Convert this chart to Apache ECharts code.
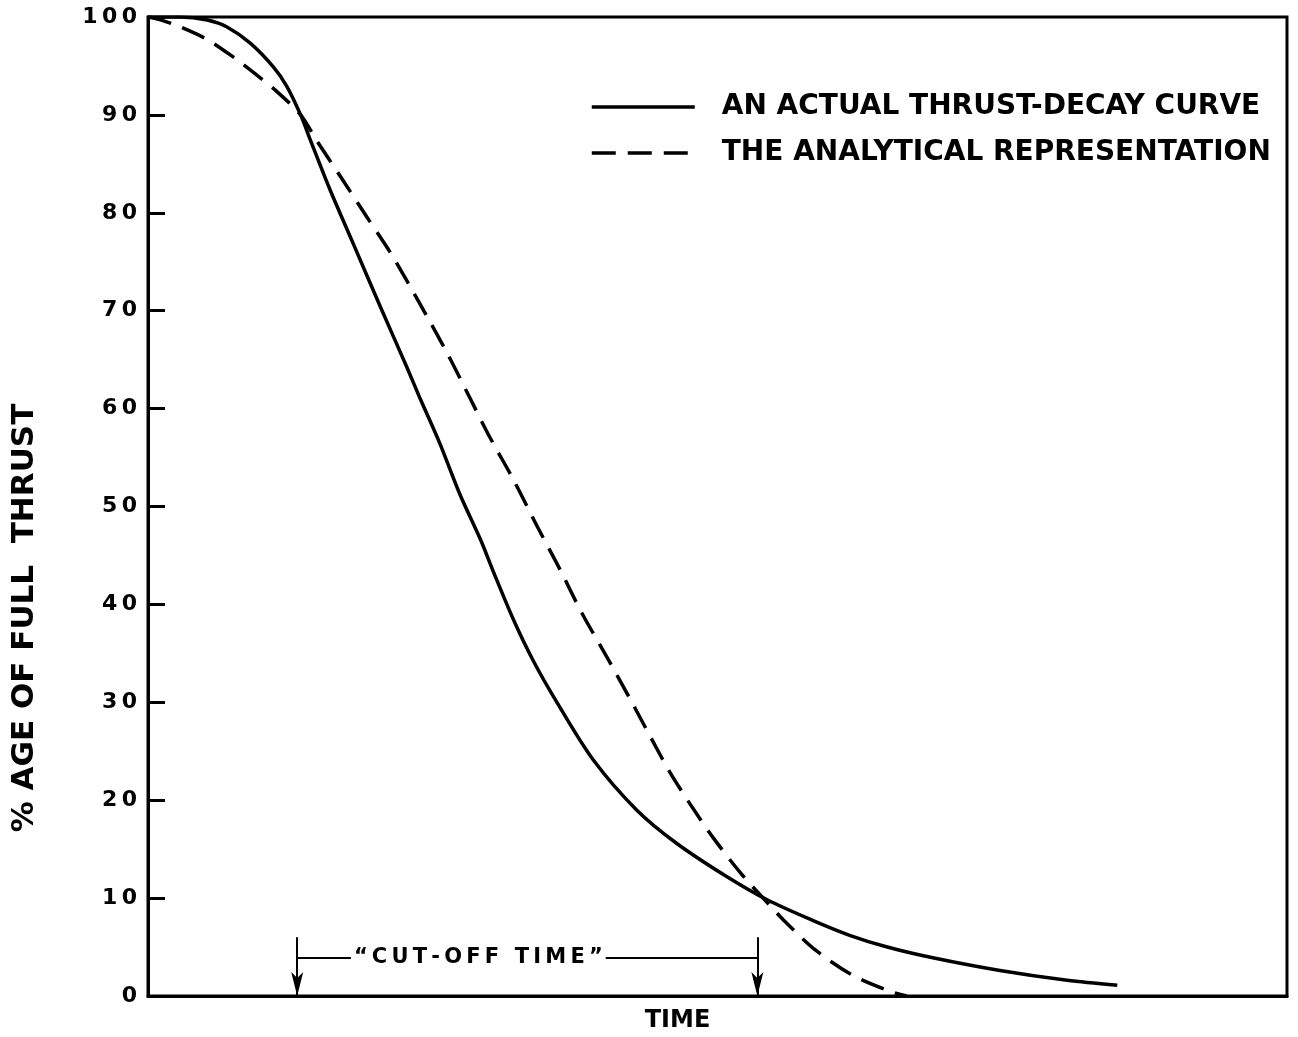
<!DOCTYPE html>
<html>
<head>
<meta charset="utf-8">
<title>Thrust decay</title>
<script src="https://cdn.jsdelivr.net/npm/echarts@6/dist/echarts.min.js"></script>
<style>
  html, body { margin: 0; padding: 0; background: #fff; }
  #chart { width: 1298px; height: 1037px; }
</style>
</head>
<body>
<div id="chart"></div>
<script>
// time axis is unitless in the original, 0..100 across the frame
var actualCurve = [
  [0, 100], [2.8, 100], [5.2, 99.7], [6.9, 99.0], [9.0, 97.3], [11.0, 94.9],
  [12.2, 92.9], [13.4, 90.0], [14.3, 87.3], [16.0, 82.3], [18.0, 76.9],
  [20.4, 70.4], [22.7, 64.3], [23.9, 61.0], [25.6, 56.5], [27.4, 51.2],
  [29.2, 46.6], [30.3, 43.4], [32.1, 38.4], [33.8, 34.3], [35.9, 30.0],
  [39.1, 24.1], [42.9, 19.0], [46.4, 15.6], [50.8, 12.2], [54.4, 9.8],
  [58.4, 7.7], [61.6, 6.2], [64.9, 5.0], [68.9, 3.9], [74.8, 2.6],
  [80.7, 1.6], [85.1, 1.1]
];
var analyticalCurve = [
  [0, 100], [1.1, 99.7], [2.8, 99.0], [5.2, 97.7], [7.5, 95.9], [9.2, 94.4],
  [11.3, 92.4], [13.4, 90.0], [14.8, 87.4], [16.9, 83.7], [19.2, 79.6],
  [21.3, 75.9], [23.0, 72.5], [24.5, 69.4], [26.3, 65.6], [28.3, 61.0],
  [30.0, 57.1], [32.1, 52.7], [34.2, 47.9], [36.2, 43.5], [38.1, 39.1],
  [40.3, 34.6], [42.3, 30.4], [44.1, 26.5], [45.8, 22.9], [47.6, 19.6],
  [49.6, 16.2], [52.0, 12.6], [54.4, 9.5], [56.1, 7.4], [58.7, 4.6],
  [61.9, 2.1], [65.1, 0.5], [66.6, 0]
];
var yTicks = [0, 10, 20, 30, 40, 50, 60, 70, 80, 90, 100];
var cutoffTimes = [13.1, 53.5];   // start / end of "cut-off time"
var cutoffLabel = [29.0, 3.9];    // where the bracket text sits
var cutoffArrowTop = 6;

var font = 'DejaVu Sans';
function spread(s, gap) {
  return String(s).split('').join(gap);
}

var chart = echarts.init(document.getElementById('chart'));

var option = {
  backgroundColor: '#fff',
  animation: false,
  grid: {
    left: 148, right: 11, top: 17, bottom: 41,
    outerBoundsMode: 'none',
    show: true, borderColor: '#000', borderWidth: 3
  },
  legend: {
    left: 585, top: 88,
    orient: 'vertical',
    itemWidth: 103, itemHeight: 16, itemGap: 18,
    data: ['AN ACTUAL THRUST-DECAY CURVE', 'THE ANALYTICAL REPRESENTATION'],
    itemStyle: { opacity: 0 },
    lineStyle: { width: 3.5 },
    textStyle: {
      fontFamily: font, fontSize: 28, fontWeight: 'bold', color: '#000',
      padding: [0, 0, 0, 22]
    }
  },
  xAxis: {
    type: 'value', min: 0, max: 100,
    name: 'TIME', nameLocation: 'middle', nameGap: 13,
    nameTextStyle: {
      fontFamily: font, fontSize: 24, fontWeight: 'bold', color: '#000',
      padding: [0, 80, 0, 0]
    },
    axisLine: { show: true, lineStyle: { color: '#000', width: 3 } },
    axisTick: { show: false },
    axisLabel: { show: false },
    splitLine: { show: false }
  },
  yAxis: {
    type: 'value', min: 0, max: 100, interval: 10,
    axisLine: { show: true, lineStyle: { color: '#000', width: 3 } },
    axisTick: { show: true, inside: true, length: 17, lineStyle: { color: '#000', width: 3 } },
    axisLabel: {
      margin: 11, fontFamily: font, fontSize: 22, fontWeight: 'bold', color: '#000',
      formatter: function (v) { return yTicks.indexOf(v) >= 0 ? spread(v, '\u2009') : ''; }
    },
    splitLine: { show: false }
  },
  graphic: [{
    type: 'text',
    x: 25, y: 618,
    rotation: Math.PI / 2,
    style: {
      text: '% AGE OF FULL  THRUST',
      font: 'bold 31px "DejaVu Sans"',
      fill: '#000',
      align: 'center', verticalAlign: 'middle'
    }
  }],
  series: [
    {
      name: 'AN ACTUAL THRUST-DECAY CURVE',
      type: 'line',
      data: actualCurve,
      showSymbol: false, symbol: 'none',
      smooth: 0.3,
      lineStyle: { color: '#000', width: 3.5 },
      itemStyle: { color: '#000' },
      z: 3
    },
    {
      name: 'THE ANALYTICAL REPRESENTATION',
      type: 'line',
      data: analyticalCurve,
      showSymbol: false, symbol: 'none',
      smooth: 0.3,
      lineStyle: { color: '#000', width: 3.5, type: [24, 12] },
      itemStyle: { color: '#000' },
      z: 3
    },
    {
      name: 'cutoff',
      type: 'scatter',
      data: [cutoffLabel],
      symbolSize: 0,
      silent: true,
      z: 6,
      itemStyle: { opacity: 1, color: '#000' },
      label: {
        show: true, position: 'inside',
        formatter: spread('\u201CCUT-OFF TIME\u201D', '\u2009'),
        fontFamily: font, fontSize: 21, fontWeight: 'bold', color: '#000',
        backgroundColor: '#fff', padding: [2, 3]
      },
      markLine: {
        silent: true,
        animation: false,
        label: { show: false },
        lineStyle: { color: '#000', width: 2, type: 'solid', opacity: 1 },
        symbol: ['none', 'arrow'],
        data: [
          [{ coord: [cutoffTimes[0], cutoffArrowTop], symbol: 'none' },
           { coord: [cutoffTimes[0], 0], symbol: 'arrow', symbolSize: [9, 24] }],
          [{ coord: [cutoffTimes[1], cutoffArrowTop], symbol: 'none' },
           { coord: [cutoffTimes[1], 0], symbol: 'arrow', symbolSize: [9, 24] }],
          [{ coord: [cutoffTimes[0], cutoffLabel[1]], symbol: 'none' },
           { coord: [cutoffTimes[1], cutoffLabel[1]], symbol: 'none' }]
        ]
      }
    }
  ]
};

chart.setOption(option);
</script>
</body>
</html>
